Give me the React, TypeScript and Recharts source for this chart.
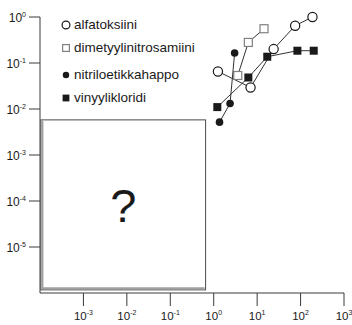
import React from 'react';
import { ScatterChart, Scatter, XAxis, YAxis, ReferenceArea, Legend } from 'recharts';

const alfatoksiini = [
  { x: 1.25, y: 0.0655 },
  { x: 7.05, y: 0.0294 },
  { x: 24, y: 0.201 },
  { x: 75, y: 0.647 },
  { x: 188, y: 1.0 },
];
const dimetyylinitrosamiini = [
  { x: 3.58, y: 0.0535 },
  { x: 6.27, y: 0.28 },
  { x: 14.4, y: 0.556 },
];
const nitriloetikkahappo = [
  { x: 1.36, y: 0.00518 },
  { x: 2.38, y: 0.0132 },
  { x: 3.03, y: 0.1645 },
];
const vinyylikloridi = [
  { x: 1.21, y: 0.011 },
  { x: 6.27, y: 0.0484 },
  { x: 17.1, y: 0.137 },
  { x: 84.5, y: 0.185 },
  { x: 201, y: 0.185 },
];

const seriesNames = ['alfatoksiini', 'dimetyylinitrosamiini', 'nitriloetikkahappo', 'vinyylikloridi'];
const xTicks = [1e-3, 1e-2, 1e-1, 1, 10, 100, 1000];
const yTicks = [1e-5, 1e-4, 1e-3, 1e-2, 1e-1, 1];
const unknownBox = { x1: 1.05e-4, x2: 0.65, y1: 1.17e-6, y2: 0.0058, label: '?' };

const INK = '#1a1a1a';
const AXIS = '#3a3a3a';

type MarkerKind = 'openCircle' | 'openSquare' | 'filledCircle' | 'filledSquare';
const markerKinds: MarkerKind[] = ['openCircle', 'openSquare', 'filledCircle', 'filledSquare'];

function Marker({ kind, cx, cy, scale = 1 }: { kind: MarkerKind; cx: number; cy: number; scale?: number }) {
  if (kind === 'openCircle') {
    const r = 4.6 * scale;
    return <circle cx={cx} cy={cy} r={r} fill="#fff" stroke={INK} strokeWidth={1.2} />;
  }
  if (kind === 'openSquare') {
    const s = 8 * scale;
    return <rect x={cx - s / 2} y={cy - s / 2} width={s} height={s} fill="#fff" stroke="#808080" strokeWidth={1.2} />;
  }
  if (kind === 'filledCircle') {
    const r = 3.8 * scale;
    return <circle cx={cx} cy={cy} r={r} fill={INK} />;
  }
  const s = 8 * scale;
  return <rect x={cx - s / 2} y={cy - s / 2} width={s} height={s} fill={INK} />;
}

const makeShape = (kind: MarkerKind) => (p: any) => {
  if (p == null || p.cx == null || p.cy == null) return <g />;
  return <Marker kind={kind} cx={p.cx} cy={p.cy} />;
};

const XTick = (props: any) => {
  const { x, y, payload } = props;
  const e = Math.round(Math.log10(payload.value));
  return (
    <text x={x} y={y + 12} textAnchor="middle" fill={INK} fontSize={11.5}>
      <tspan>10</tspan>
      <tspan fontSize={7} dy={-5}>{e}</tspan>
    </text>
  );
};

const YTick = (props: any) => {
  const { x, y, payload } = props;
  const e = Math.round(Math.log10(payload.value));
  return (
    <text x={x - 1} y={y + 5} textAnchor="end" fill={INK} fontSize={12}>
      <tspan>10</tspan>
      <tspan fontSize={7} dy={-5}>{e}</tspan>
    </text>
  );
};

const BoxShape = (p: any) => {
  const { x, y, width, height } = p;
  if (x == null) return <g />;
  return (
    <g>
      <rect x={x} y={y} width={width} height={height} fill="#fff" stroke="#4a4a4a" strokeWidth={1} />
      <line x1={x + 1.5} y1={y + 1} x2={x + 1.5} y2={y + height - 1.5} stroke="#a0a0a0" strokeWidth={2} />
      <line x1={x + 1} y1={y + height - 1.5} x2={x + width - 1} y2={y + height - 1.5} stroke="#a0a0a0" strokeWidth={2} />
      <text
        x={x + width / 2}
        y={y + height / 2 + 17}
        textAnchor="middle"
        fontSize={47}
        fill={INK}
      >
        {unknownBox.label}
      </text>
    </g>
  );
};

const legendRowCenters = [25, 48, 75, 98];

const LegendContent = () => (
  <div style={{ position: 'relative', width: 300, height: 110 }}>
    {seriesNames.map((name, i) => (
      <div
        key={name}
        style={{
          position: 'absolute',
          left: 60,
          top: legendRowCenters[i] - 9,
          height: 18,
          display: 'flex',
          alignItems: 'center',
          whiteSpace: 'nowrap',
        }}
      >
        <svg width={12} height={18} style={{ display: 'block' }}>
          <Marker kind={markerKinds[i]} cx={6} cy={9} scale={0.85} />
        </svg>
        <span style={{ fontSize: 13.5, color: INK, marginLeft: 2, lineHeight: '18px' }}>{name}</span>
      </div>
    ))}
  </div>
);

const seriesData = [alfatoksiini, dimetyylinitrosamiini, nitriloetikkahappo, vinyylikloridi];

export default function App() {
  return (
    <div
      style={{
        position: 'absolute',
        left: 0,
        top: 0,
        width: 352,
        height: 325,
        background: '#fff',
        fontFamily: '"Liberation Sans", Arial, Helvetica, sans-serif',
      }}
    >
      <ScatterChart width={352} height={325} margin={{ top: 17, right: 8, bottom: 0, left: 0 }}>
        <XAxis
          type="number"
          dataKey="x"
          scale="log"
          domain={[1e-4, 1000]}
          ticks={xTicks}
          interval={0}
          height={32}
          tickSize={13}
          tick={<XTick />}
          axisLine={{ stroke: AXIS, strokeWidth: 1 }}
          tickLine={{ stroke: AXIS, strokeWidth: 1 }}
        />
        <YAxis
          type="number"
          dataKey="y"
          scale="log"
          domain={[1e-6, 1]}
          ticks={yTicks}
          interval={0}
          width={40}
          tickSize={11}
          tick={<YTick />}
          axisLine={{ stroke: AXIS, strokeWidth: 1 }}
          tickLine={{ stroke: AXIS, strokeWidth: 1 }}
        />
        <ReferenceArea
          x1={unknownBox.x1}
          x2={unknownBox.x2}
          y1={unknownBox.y1}
          y2={unknownBox.y2}
          shape={<BoxShape />}
          ifOverflow="visible"
        />
        {seriesData.map((d, i) => (
          <Scatter
            key={seriesNames[i]}
            name={seriesNames[i]}
            data={d}
            line={{ stroke: '#333', strokeWidth: 1 }}
            lineType="joint"
            shape={makeShape(markerKinds[i])}
            isAnimationActive={false}
          />
        ))}
        <Legend
          layout="vertical"
          align="center"
          verticalAlign="middle"
          content={<LegendContent />}
          wrapperStyle={{ left: 0, top: 0, width: 300, height: 110 }}
        />
      </ScatterChart>
    </div>
  );
}
